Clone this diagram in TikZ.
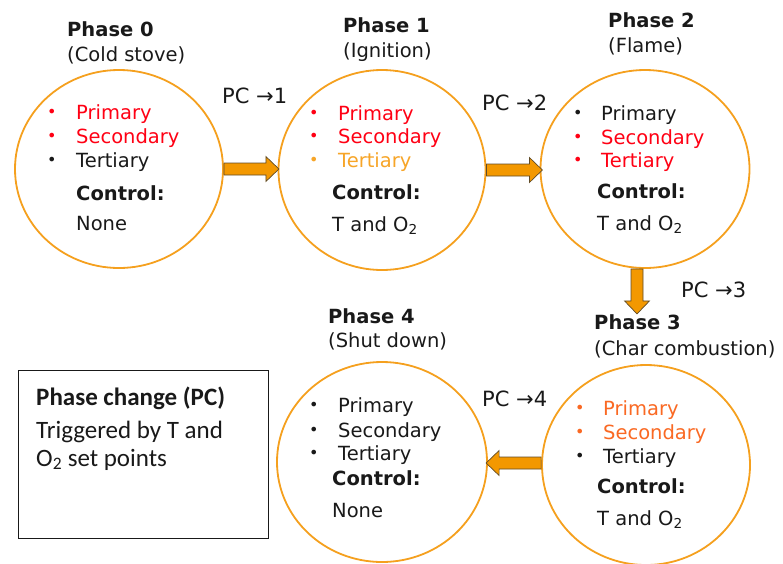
\documentclass[tikz,border=0pt]{standalone}
\usepackage{fontspec}
\setmainfont{DejaVu Sans}
\newfontfamily\legendfont{Carlito}
\usetikzlibrary{shapes.geometric,calc}
\definecolor{ringc}{RGB}{245,160,30}
\definecolor{arrfill}{RGB}{243,152,0}
\definecolor{arrline}{RGB}{95,75,40}
\definecolor{actred}{RGB}{255,0,20}
\definecolor{tertorange}{RGB}{247,165,40}
\definecolor{charorange}{RGB}{250,105,35}
\definecolor{txt}{RGB}{25,25,25}
\begin{document}
\begin{tikzpicture}[x=1pt,y=-1pt,
  phase/.style={draw=ringc,line width=1.8pt,ellipse,fill=white},
  tl/.style={anchor=base west,inner sep=0pt,text=txt,font=\fontsize{19.5}{22}\selectfont},
  bl/.style={anchor=base west,inner sep=0pt,text=txt,font=\fontsize{16}{18}\selectfont},
  ttl/.style={tl,font=\fontsize{19.5}{22}\selectfont\bfseries},
  pcl/.style={tl,font=\fontsize{21}{24}\selectfont},
  lg/.style={anchor=base west,inner sep=0pt,text=txt,font=\legendfont\fontsize{25}{28}\selectfont},
  pics/blockarrow/.style={code={
    \draw[fill=arrfill,draw=arrline,line width=0.7pt,line join=miter]
      (0,-6) -- (#1-13,-6) -- (#1-13,-12.5) -- (#1,0) -- (#1-13,12.5) -- (#1-13,6) -- (0,6) -- cycle;}}
]
\useasboundingbox (0,0) rectangle (783,563);

% circles
\node[phase,minimum width=208pt,minimum height=198pt] (c0) at (119,169) {};
\node[phase,minimum width=207pt,minimum height=200pt] (c1) at (382,170) {};
\node[phase,minimum width=209pt,minimum height=198pt] (c2) at (645,169) {};
\node[phase,minimum width=208pt,minimum height=200pt] (c3) at (646,465) {};
\node[phase,minimum width=210pt,minimum height=200pt] (c4) at (382,462) {};

% block arrows
\pic at (c0.east) {blockarrow=55};
\pic at (c1.east) {blockarrow=56};
\coordinate (a23) at ($(c2.south)+(-8,0)$);
\pic[rotate=-90] at (a23) {blockarrow=45};
\coordinate (a34) at ($(c3.west)+(0,-2)$);
\pic[rotate=180] at (a34) {blockarrow=55};

% titles
\node[ttl] (t0) at (67,36) {Phase 0};
\node[tl]  (s0) at (67,61) {(Cold stove)};
\node[ttl] (t1) at (343,32) {Phase 1};
\node[tl]  (s1) at (343,57) {(Ignition)};
\node[ttl] (t2) at (608,27) {Phase 2};
\node[tl]  (s2) at (608,52) {(Flame)};
\node[ttl] (t3) at (594,329) {Phase 3};
\node[tl]  (s3) at (594,355) {(Char combustion)};
\node[ttl] (t4) at (328,323) {Phase 4};
\node[tl]  (s4) at (328,347) {(Shut down)};

% PC labels
\node[pcl] (p1) at (222,103) {PC →1};
\node[pcl] (p2) at (482,110) {PC →2};
\node[pcl] (p3) at (681,297) {PC →3};
\node[pcl] (p4) at (482,406) {PC →4};

% phase 0 contents
\node[bl,text=actred] (b0a) at (47,117) {•};
\node[tl,text=actred] (l0a) at (76,119) {Primary};
\node[bl,text=actred] (b0b) at (47,141) {•};
\node[tl,text=actred] (l0b) at (76,143) {Secondary};
\node[bl] (b0c) at (47,165) {•};
\node[tl] (l0c) at (76,167) {Tertiary};
\node[ttl] (k0) at (76,200) {Control:};
\node[tl] (v0) at (76,230) {None};

% phase 1 contents
\node[bl,text=actred] (b1a) at (309,118) {•};
\node[tl,text=actred] (l1a) at (338,120) {Primary};
\node[bl,text=actred] (b1b) at (309,141) {•};
\node[tl,text=actred] (l1b) at (338,143) {Secondary};
\node[bl,text=tertorange] (b1c) at (309,165) {•};
\node[tl,text=tertorange] (l1c) at (338,167) {Tertiary};
\node[ttl] (k1) at (332,199) {Control:};
\node[tl] (v1) at (332,231) {T and O\textsubscript{2}};

% phase 2 contents
\node[bl] (b2a) at (573,118) {•};
\node[tl] (l2a) at (601,120) {Primary};
\node[bl,text=actred] (b2b) at (573,142) {•};
\node[tl,text=actred] (l2b) at (601,144) {Secondary};
\node[bl,text=actred] (b2c) at (573,165) {•};
\node[tl,text=actred] (l2c) at (601,167) {Tertiary};
\node[ttl] (k2) at (597,198) {Control:};
\node[tl] (v2) at (597,230) {T and O\textsubscript{2}};

% phase 3 contents
\node[bl,text=charorange] (b3a) at (575,413) {•};
\node[tl,text=charorange] (l3a) at (603,415) {Primary};
\node[bl,text=charorange] (b3b) at (575,437) {•};
\node[tl,text=charorange] (l3b) at (603,439) {Secondary};
\node[bl] (b3c) at (575,461) {•};
\node[tl] (l3c) at (603,463) {Tertiary};
\node[ttl] (k3) at (597,493) {Control:};
\node[tl] (v3) at (597,525) {T and O\textsubscript{2}};

% phase 4 contents
\node[bl] (b4a) at (309,410) {•};
\node[tl] (l4a) at (338,412) {Primary};
\node[bl] (b4b) at (309,435) {•};
\node[tl] (l4b) at (338,437) {Secondary};
\node[bl] (b4c) at (309,458) {•};
\node[tl] (l4c) at (338,460) {Tertiary};
\node[ttl] (k4) at (332,485) {Control:};
\node[tl] (v4) at (332,517) {None};

% legend
\draw[draw=txt,line width=1pt] (18,370) rectangle (268,538);
\node[lg,font=\legendfont\fontsize{25}{28}\selectfont\bfseries] (g1) at (36,405) {Phase change (PC)};
\node[lg] (g2) at (36,438) {Triggered by T and};
\node[lg] (g3) at (36,466) {O\textsubscript{2} set points};
\end{tikzpicture}
\end{document}
